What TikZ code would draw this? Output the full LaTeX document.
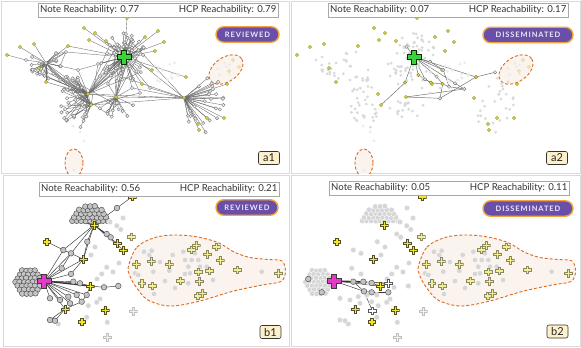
\documentclass[tikz,border=0pt]{standalone}
\usepackage{fontspec}
\setmainfont{Lato}
\newfontfamily\badgefont[LetterSpace=12]{Lato}
\usetikzlibrary{calc,shadows}
\pgfdeclarelayer{bg}
\pgfdeclarelayer{edges}
\pgfsetlayers{bg,edges,main}
\definecolor{edgeA}{HTML}{6A6A6A}
\definecolor{nodeline}{HTML}{7A7A7A}
\definecolor{nodefill}{HTML}{EEEEEE}
\definecolor{yel}{HTML}{E3DA38}
\definecolor{yelline}{HTML}{8A862C}
\definecolor{fadeA}{HTML}{D9D9D9}
\definecolor{fadeAA}{HTML}{EBEBEB}
\definecolor{fadeB}{HTML}{D6D6D6}
\definecolor{dashc}{HTML}{E0691C}
\definecolor{blobfill}{HTML}{FBF3EE}
\definecolor{badgebg}{HTML}{6A4FA8}
\definecolor{badgeline}{HTML}{F2A43A}
\definecolor{badgetext}{HTML}{ECE6F8}
\definecolor{lblfill}{HTML}{FDF1CC}
\definecolor{panelline}{HTML}{DADADA}
\definecolor{hdrline}{HTML}{A8A8A8}
\definecolor{txt}{HTML}{333333}
\definecolor{greenp}{HTML}{3CD23C}
\definecolor{magp}{HTML}{E03CC8}
\definecolor{grayB}{HTML}{C4C4C4}
\definecolor{ypl}{HTML}{F2E62A}
\definecolor{yplline}{HTML}{55501E}
\definecolor{yplb}{HTML}{F3EE8E}
\definecolor{yplbline}{HTML}{8C8862}
\definecolor{yplp}{HTML}{F8F5D2}
\newcommand\pluspath[3]{([shift={(-#3,-#2)}]#1) -- ([shift={(#3,-#2)}]#1) -- ([shift={(#3,-#3)}]#1) -- ([shift={(#2,-#3)}]#1) -- ([shift={(#2,#3)}]#1) -- ([shift={(#3,#3)}]#1) -- ([shift={(#3,#2)}]#1) -- ([shift={(-#3,#2)}]#1) -- ([shift={(-#3,#3)}]#1) -- ([shift={(-#2,#3)}]#1) -- ([shift={(-#2,-#3)}]#1) -- ([shift={(-#3,-#3)}]#1) -- cycle}
\tikzset{
 plusmark/.style n args={5}{rectangle, inner sep=0pt, minimum size={2*#1+2}, path picture={\filldraw[fill=#3, draw=#4, line width=#5, line join=miter] \pluspath{path picture bounding box.center}{#1}{#2};}},
 gnA/.style={circle, inner sep=0pt, minimum size=3.4pt, draw=nodeline, fill=nodefill, line width=0.4pt},
 ynA/.style={circle, inner sep=0pt, minimum size=3.4pt, draw=yelline, fill=yel, line width=0.4pt},
 fnA/.style={circle, inner sep=0pt, minimum size=3pt, fill=fadeA},
 fA/.style={circle, inner sep=0pt, minimum size=3pt, fill=fadeAA},
 yP/.style={circle, inner sep=0pt, minimum size=3.4pt, draw=yelline!40, fill=yel!45, line width=0.4pt},
 yA/.style={ynA}, gA/.style={gnA}, eA/.style={edA},
 edA/.style={draw=edgeA, line width=0.35pt},
 edR/.style={draw=edgeA, line width=0.45pt},
 gnB/.style={circle, inner sep=0pt, minimum size=5.6pt, draw=black!70, fill=grayB, line width=0.45pt},
 fnB/.style={circle, inner sep=0pt, minimum size=5.6pt, fill=fadeB, draw=white, line width=0.35pt},
 fB/.style={fnB}, gB/.style={gnB}, eB/.style={edB},
 edB/.style={draw=black!80, line width=0.45pt},
 greenplus/.style={plusmark={7}{2.3}{greenp}{black!80!green}{0.8pt}},
 magplus/.style={plusmark={7}{2.2}{magp}{black!85!magenta}{0.8pt}},
 yplus/.style={plusmark={3.7}{1.3}{ypl}{yplline}{0.4pt}},
 bplus/.style={plusmark={3.7}{1.3}{yplb}{yplbline}{0.4pt}},
 pplus/.style={plusmark={3.7}{1.3}{yplp}{black!25}{0.4pt}},
 wplus/.style={plusmark={3.7}{1.3}{white}{black!65}{0.4pt}},
 hdr/.style={draw=hdrline, fill=white, line width=0.5pt, minimum width=240pt, minimum height=14pt, inner sep=0pt, drop shadow={shadow xshift=1.2pt, shadow yshift=-1.2pt, fill=black!55, opacity=0.9}},
 htxt/.style={font=\fontsize{9.6}{11}\selectfont, text=txt, inner sep=2pt},
 badge/.style={draw=badgeline, fill=badgebg, line width=1.4pt, rounded corners=7.7pt, minimum height=15.5pt, inner sep=0pt, text=badgetext, font=\badgefont\bfseries\fontsize{7.5}{8}\selectfont},
 lbl/.style={draw=black!80, fill=lblfill, line width=0.6pt, rounded corners=2pt, minimum width=21pt, minimum height=13pt, inner sep=0pt, font=\fontsize{11}{12}\selectfont, text=black!85},
 dashreg/.style={draw=dashc, dash pattern=on 3pt off 2pt, line width=0.9pt, fill=blobfill},
 panel/.style={draw=panelline, line width=0.6pt},
}
\newcommand\header[5]{%
 \node[hdr, anchor=north west] (#1) at (#2,#3) {};
 \node[htxt, anchor=west] (#1l) at (#1.west) {#4};
 \node[htxt, anchor=east] (#1r) at (#1.east) {#5};}
\newcommand\netA[1]{%
\pgfmathsetseed{2718}%
\foreach \k in {1,...,60}{\pgfmathsetmacro\ang{360*rnd}\pgfmathsetmacro\rad{4+19*sqrt(rnd)}\node[gA] (#1h\k) at ($(123,58)+({\rad*cos(\ang)},{1.1*\rad*sin(\ang)})$) {};}%
\foreach \k in {1,...,22}{\pgfmathsetmacro\ang{360*rnd}\pgfmathsetmacro\rad{4+12*sqrt(rnd)}\node[gA] (#1l\k) at ($(46,63)+(\ang:\rad)$) {};}%
\foreach \k in {1,...,40}{\pgfmathsetmacro\ang{95+150*rnd}\pgfmathsetmacro\rad{6+26*sqrt(rnd)}\node[gA] (#1m\k) at ($(88,99)+(\ang:\rad)$) {};}%
\foreach \k in {1,...,18}{\pgfmathsetmacro\ang{25+125*rnd}\pgfmathsetmacro\rad{5+18*rnd}\node[gA] (#1n\k) at ($(116,97)+(\ang:\rad)$) {};}%
\foreach \k in {1,...,28}{\pgfmathsetmacro\ang{-45+125*rnd}\pgfmathsetmacro\rad{7+34*sqrt(rnd)}\node[gA] (#1r\k) at ($(184,98)+(\ang:\rad)$) {};}%
\foreach \k in {1,...,16}{\pgfmathsetmacro\ang{360*rnd}\pgfmathsetmacro\rad{13*sqrt(rnd)}\node[fA] (#1f\k) at ($(166,72)+(\ang:\rad)$) {};}%
\foreach \k in {1,...,6}{\pgfmathsetmacro\ang{360*rnd}\pgfmathsetmacro\rad{9*sqrt(rnd)}\node[fA] (#1e\k) at ($(224,70)+(\ang:\rad)$) {};}%
\foreach \x/\y [count=\k] in {74/170, 73/126, 84/141, 80/132}{\node[fA] (#1k\k) at (\x,\y) {};}%
\foreach \x/\y [count=\k] in {126/34, 26/60, 66/52, 150/88, 140/93, 100/76, 108/84, 60/80, 78/70, 98/64, 70/88, 132/88}{\node[gA] (#1g\k) at (\x,\y) {};}%
\node[gA] (#1L) at (46,63) {};
\node[yA] (#1M1) at (88,94) {};
\node[yA] (#1M2) at (91,105) {};
\node[yA] (#1M3) at (116,97) {};
\node[yA] (#1R) at (184,98) {};
\foreach \x/\y [count=\k] in {127/18, 84/28, 95/33, 89/40, 158/31, 164/42, 155/51, 20/47, 34/44, 7/55, 68/46, 39/68, 46/82, 142/84, 152/70, 227/84, 207/118, 224/118, 198/124, 199/130, 186/77, 106/41, 145/37}{\node[yA] (#1y\k) at (\x,\y) {};}%
\foreach \x/\y [count=\k] in {233/60, 229/71, 239/67}{\node[yP] (#1p\k) at (\x,\y) {};}%
\node[greenplus] (#1H) at (124,57) {};
\begin{pgfonlayer}{edges}
\foreach \k in {1,...,60}{\draw[eA] (#1H.center) -- (#1h\k.center);}
\foreach \k in {1,...,22}{\draw[eA] (#1L.center) -- (#1l\k.center);}
\foreach \k in {1,3,...,39}{\draw[eA] (#1M1.center) -- (#1m\k.center);}
\foreach \k in {2,4,...,40}{\draw[eA] (#1M2.center) -- (#1m\k.center);}
\foreach \k in {1,...,18}{\draw[eA] (#1M3.center) -- (#1n\k.center);}
\foreach \k in {1,...,28}{\draw[eA] (#1R.center) -- (#1r\k.center);}
\foreach \k in {1,...,10}{\draw[eA] (#1h\k.center) -- (#1M1.center);}
\foreach \k in {11,...,17}{\draw[eA] (#1h\k.center) -- (#1M3.center);}
\foreach \k in {18,...,20}{\draw[eA] (#1h\k.center) -- (#1R.center);}
\foreach \k in {1,...,6}{\draw[eA] (#1l\k.center) -- (#1M1.center);}
\foreach \k in {7,...,9}{\draw[eA] (#1l\k.center) -- (#1g3.center);}
\foreach \a/\b in {L/M1, L/M2, M1/M3, M2/M3, M1/R, M3/R, M2/R, M1/M2, g3/H, g3/L, y1/g1, g1/H, y2/H, y3/H, y4/H, y5/H, y6/H, y7/H, y8/L, y9/L, y10/g2, g2/L, y11/H, y11/L, y12/L, y13/L, y13/M1, y14/H, y15/H, y16/R, y17/R, y18/R, y19/R, y20/R, y21/H, y22/H, y23/H, g4/H, g4/R, g5/H, g5/M2, g6/H, g6/M1, g7/H, g7/M3, g8/L, g8/M1, m1/n1, m3/n2, g9/L, g9/M1, g9/H, g10/H, g10/M2, g11/L, g11/M2, g12/H, g12/M3, g12/R}{\draw[eA] (#1\a.center) -- (#1\b.center);}
\end{pgfonlayer}}
\newcommand\netB[1]{%
\pgfmathsetseed{99}%
\foreach \j in {-3,...,3}{\foreach \i in {-3,...,3}{%
 \pgfmathsetmacro\xx{28.5+4.4*\i+(mod(\j+6,2)==1 ? 2.2 : 0)+0.8*(rnd-0.5)}%
 \pgfmathsetmacro\yy{282+3.8*\j+0.8*(rnd-0.5)}%
 \pgfmathparse{((\xx-28.5)^2+(\yy-282)^2)<=180 ? 1 : 0}%
 \ifdim\pgfmathresult pt>0.5pt \node[gB] (#1d\i x\j) at (\xx,\yy) {};\fi}}%
\foreach \j in {0,...,4}{\foreach \i in {-5,...,5}{%
 \pgfmathsetmacro\xx{90+4.5*\i+(mod(\j,2)==1 ? 2.25 : 0)+0.8*(rnd-0.5)}%
 \pgfmathsetmacro\yy{221-3.7*\j+0.8*(rnd-0.5)}%
 \pgfmathparse{(((\xx-90)/18.5)^2+((\yy-222)/16.5)^2)<=1 ? 1 : 0}%
 \ifdim\pgfmathresult pt>0.5pt \node[gB] (#1u\i x\j) at (\xx,\yy) {};\fi}}%
\foreach \x/\y [count=\k] in {116.7/225.7, 120.7/229.5, 110/222, 123/218, 91/255, 95/247, 106.7/267.3, 101.7/274, 97/279, 100/299, 96.7/302.3, 88.3/305.7, 107.3/322.3, 86.7/317.3, 58.3/324, 113/272, 119/263, 144/251.7, 149.3/255, 151.7/250.7, 172.7/255, 183.3/251.7, 185/260, 195/253.3, 191.7/260, 198.3/260, 188.3/266.7, 200/266.7, 206.7/266.7, 135/273.3, 138.3/275, 153.3/271.7, 169.3/270.7, 185/274, 190/273.3, 188.3/283.3, 154/294, 261.7/271.7, 160/262, 175/288, 213/280, 165/281}{\node[fB] (#1f\k) at (\x,\y) {};}%
\foreach \x/\y [count=\k] in {63.3/250, 71/253.3, 87.3/241.7, 71/274, 73.3/281.7, 80/283.3, 104/287.3, 118.3/286, 50/298.3, 60/300, 68.3/296.7, 76.7/295, 86.7/295, 81.7/301.7, 70/303.3, 50/320, 55/320.7, 117/208, 106.7/234, 110.7/237.3, 61.7/268.3}{\node[gB] (#1m\k) at (\x,\y) {};}%
\foreach \x/\y [count=\k] in {83.3/259.3, 90/286, 65/309, 46.7/241.7, 132/196.7, 117.3/243.3, 123.3/250, 105/310, 81.7/321.7}{\node[yplus] (#1y\k) at (\x,\y) {};}%
\node[bplus] (#1v1) at (131,236.7) {};
\node[pplus] (#1v2) at (133,311) {};
\node[pplus] (#1v3) at (107.3,337) {};
\foreach \x/\y [count=\k] in {136/264, 151/261, 169/264, 191/249.7, 196/245, 216/246.7, 207.3/254, 220/260, 198.3/271.7, 209.3/270.7, 237.3/269.7, 278.3/273, 180/280.7, 199.3/281.3, 141.7/283, 152.3/285.7, 197.7/295.7, 202.3/293.3}{\node[bplus] (#1b\k) at (\x,\y) {};}%
\node[yplus] (#1T) at (94,225) {};
\node[magplus] (#1P) at (44,281) {};
\begin{pgfonlayer}{edges}
\pgfmathsetseed{99}%
\foreach \j in {-3,...,3}{\foreach \i in {-3,...,3}{%
 \pgfmathsetmacro\xx{28.5+4.4*\i+(mod(\j+6,2)==1 ? 2.2 : 0)+0.8*(rnd-0.5)}%
 \pgfmathsetmacro\yy{282+3.8*\j+0.8*(rnd-0.5)}%
 \pgfmathparse{((\xx-28.5)^2+(\yy-282)^2)<=180 ? 1 : 0}%
 \ifdim\pgfmathresult pt>0.5pt \draw[eB] (#1P.center) -- (#1d\i x\j.center);\fi}}%
\foreach \j in {0,...,4}{\foreach \i in {-5,...,5}{%
 \pgfmathsetmacro\xx{90+4.5*\i+(mod(\j,2)==1 ? 2.25 : 0)+0.8*(rnd-0.5)}%
 \pgfmathsetmacro\yy{221-3.7*\j+0.8*(rnd-0.5)}%
 \pgfmathparse{(((\xx-90)/18.5)^2+((\yy-222)/16.5)^2)<=1 ? 1 : 0}%
 \ifdim\pgfmathresult pt>0.5pt \draw[eB] (#1T.center) -- (#1u\i x\j.center);\fi}}%
\foreach \a/\b in {T/m3, T/m1, T/m2, T/y1, T/m18, T/m19, T/m20, T/y6, T/y7, m18/y5, P/m1, P/m2, P/y1, P/m21, P/m4, P/m5, P/m6, P/m9, P/m10, P/m11, P/m12, P/m13, P/y3, P/m15, m1/y4, m2/y1, m3/y1, m1/m2, m4/y1, m21/m2, y2/m7, m7/m8, y2/m6, y2/m13, y3/m16, y3/m17, y3/m14, m14/m12, m11/m15, m13/m14, m19/m20}{\draw[eB] (#1\a.center) -- (#1\b.center);}
\draw[eB, line width=1.3pt] (#1P.center) -- (#1y2.center);
\end{pgfonlayer}}
\begin{document}
\begin{tikzpicture}[x=1pt,y=-1pt]
\useasboundingbox (0,0) rectangle (581,348);
\begin{pgfonlayer}{bg}
\fill[white] (0,0) rectangle (581,348);
\draw[panel] (1,1) rectangle (289.5,173.5);
\draw[panel] (291.5,1) rectangle (580,173.5);
\draw[panel] (3,175.5) rectangle (289.5,346.5);
\draw[panel] (291.5,175.5) rectangle (580,346.5);
\foreach \dx in {0,290}{
 \draw[dashreg, rotate around={35:(226+\dx,69.5)}] (226+\dx,69.5) ellipse [x radius=19pt, y radius=12pt];
 \begin{scope}
  \clip (\dx+1,1) rectangle (\dx+289,173);
  \draw[dashreg] (74+\dx,163) ellipse [x radius=9pt, y radius=14pt];
 \end{scope}
 \begin{scope}[shift={(\dx,0)}]
  \draw[dashreg] plot[smooth cycle, tension=0.55] coordinates {(128.5,266) (137,247) (155,237.5) (175,235) (198,237) (219,243) (234,252) (250,257.5) (268,259.5) (282,261) (285.5,271.5) (281,281.5) (262,285) (232,291.5) (198,301.5) (170,306) (148,300) (136,287) (129.5,275)};
 \end{scope}}
\end{pgfonlayer}
% a1
\begin{scope}[gA/.style={gnA}, eA/.style={edA}]
\netA{a1}
\end{scope}
% a2
\begin{scope}[shift={(290,0)}, gA/.style={fnA}, eA/.style={draw=none}]
\netA{a2}
\foreach \x/\y [count=\k] in {116.7/46.7, 140/61.7, 153.3/70, 165/83.3, 205/72.3, 174.3/89, 150/98.3, 135/79.3, 146.7/76.7, 159/86.7}{\node[gnA] (a2q\k) at (\x,\y) {};}
\foreach \x/\y [count=\k] in {141/82.7, 152.7/84, 128.3/75, 115/82.7}{\node[ynA] (a2z\k) at (\x,\y) {};}
\node[ynA] (a2w1) at (186,77) {};
\node[greenplus] (a2H2) at (124,57) {};
\begin{pgfonlayer}{edges}
\foreach \a/\b in {H2/q1, H2/q2, H2/q3, H2/q4, H2/q8, H2/q9, H2/z3, H2/z4, H2/w1, q2/q3, q3/q10, q8/z1, q9/z2, z1/z2, z2/q10, q10/q6, q4/q6, w1/q5, z4/M2, z3/z1, M3/q7, q7/w1, q7/z2, M3/q6}{\draw[edR] (a2\a.center) -- (a2\b.center);}
\end{pgfonlayer}
\end{scope}
% b1
\begin{scope}[gB/.style={gnB}, eB/.style={edB}]
\netB{b1}
\end{scope}
% b2
\begin{scope}[shift={(290,0)}, gB/.style={fnB}, eB/.style={draw=none}]
\netB{b2}
\foreach \x/\y [count=\k] in {18.3/279, 31.7/292.3, 63.3/281.7, 73.3/281.7, 81.7/283, 74/291.3, 81.7/292.3, 98.3/292.3}{\node[gnB] (b2s\k) at (\x,\y) {};}
\node[wplus] (b2w1) at (98.3,283.3) {};
\node[wplus] (b2w2) at (82.3,310.7) {};
\node[yplus] (b2y2b) at (90,286) {};
\node[magplus] (b2P2) at (44,281) {};
\begin{pgfonlayer}{edges}
\foreach \a/\b in {P2/s1, P2/s2, P2/s3, P2/s4, P2/s5, P2/w1, P2/y2b, P2/s6, s4/w1, s5/y2b, s6/s7, s7/s8, s6/w2, s3/s6, y2b/w1}{\draw[edB] (b2\a.center) -- (b2\b.center);}
\draw[edB, line width=1.2pt] (b2P2.center) -- (b2s4.center);
\end{pgfonlayer}
\end{scope}
% headers, badges, labels
\header{a1hd}{38}{3}{Note Reachability: 0.77}{HCP Reachability: 0.79}
\header{a2hd}{328}{3}{Note Reachability: 0.07}{HCP Reachability: 0.17}
\header{b1hd}{39}{182}{Note Reachability: 0.56}{HCP Reachability: 0.21}
\header{b2hd}{329}{181}{Note Reachability: 0.05}{HCP Reachability: 0.11}
\node[badge, minimum width=63pt] (a1bd) at (247.5,34.5) {REVIEWED};
\node[badge, minimum width=90pt] (a2bd) at (528,35) {DISSEMINATED};
\node[badge, minimum width=62pt] (b1bd) at (247,207.5) {REVIEWED};
\node[badge, minimum width=90pt] (b2bd) at (528,208.5) {DISSEMINATED};
\node[lbl] (a1lb) at (269,158) {a1};
\node[lbl] (a2lb) at (557,158) {a2};
\node[lbl] (b1lb) at (270.5,332) {b1};
\node[lbl] (b2lb) at (557.5,331.5) {b2};
\end{tikzpicture}
\end{document}
